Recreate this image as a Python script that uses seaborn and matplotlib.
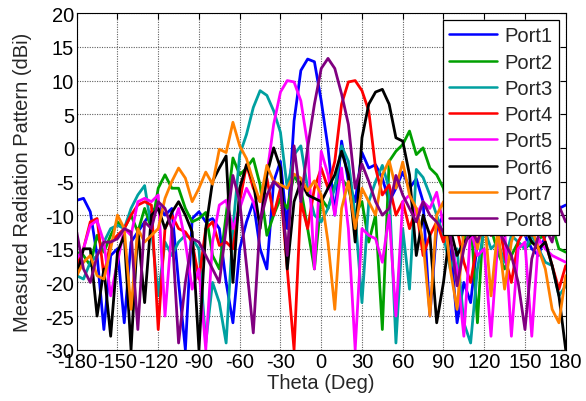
import numpy as np
import pandas as pd
import matplotlib
matplotlib.use("Agg")
import matplotlib.pyplot as plt
import seaborn as sns

# Measurement angles (deg), 5-degree steps
theta = list(range(-180, 181, 5))

port1 = [-7.8, -7.5, -9.5, -16, -27, -16, -15, -26, -14, -12.5, -11, -9.5, -8.5,
         -10, -9, -20, -30, -10.5, -9.5, -11, -10.5, -12, -20, -26, -15, -11, -8,
         -15, -18, -5, -2, -12, 4, 11.5, 13.2, 12.8, 7.0, 0, -10, 1.0, -5, -8, -0.7,
         -3, -2.5, -4.5, -8, -6, -3.6, -6, -4.6, -8, -25, -12, -10, -14, -26, -20,
         -23, -14, -12, -10, -11, -13, -11, -12, -13, -15, -16, -13, -11, -9, -8.5]

port2 = [-15.5, -16, -17.5, -13, -15.5, -13, -11, -12, -10, -12.5, -9, -12, -6,
         -4, -6, -6, -9, -11, -10.5, -9.6, -16, -18, -10, -1.5, -4, -3, -1.6, -5.5,
         -13, -10, -7.5, -9, -4, -6, -12, -18, -7.5, -9, -5.5, -4.5, -6, -10, -8,
         -14, -10, -27, -2, -0.5, 0.5, 2.5, -1, 0, -3, -4, -6, -12, -8, -14, -10,
         -26, -9, -12, -15.5, -18, -16, -14, -15, -14, -13.5, -13, -11.5, -15, -15.5]

port3 = [-19, -19.5, -17, -16, -14, -12, -11.5, -12, -9, -7, -5.6, -12, -22,
         -14, -16, -14, -13, -13.5, -15, -29, -20, -23, -29, -12, -1, 2, 6, 8.5,
         7.8, 5.5, 2.3, -6, -1, 0.3, -6, -10, -11, -9, -6, 0.3, -2, -10, -23, -8,
         -5, -2.6, -6, -29, -12, -21, -3.2, -4.4, -7, -10, -13, -18, -15, -26, -29,
         -18, -12, -15, -14, -17, -13, -14, -15, -13, -15, -17, -17.5, -22, -20.5]

port4 = [-17.5, -15, -11, -10.5, -19, -14, -13, -12, -10, -8.5, -8, -8.5, -27,
         -12, -10, -12, -12.5, -14, -19.5, -12, -11, -14.5, -14, -15, -8, -2.5, -6,
         -8, -4.5, -10, -6, -18, -30, -8, -12, -6, -3, -6, -2, 6.5, 9.8, 10, 8.5,
         5.5, -3, -7, -5.5, -10, -8, -12, -9, -16, -13, -11, -14, -10, -12, -17,
         -20, -14, -11, -13, -10, -16, -20, -14, -12, -13, -11, -14, -17.5, -21, -17.5]

port5 = [-16.5, -15, -11.5, -10.8, -14, -22, -17, -12, -13, -8, -7.5, -8, -7,
         -25, -12, -9, -14, -21, -18, -30, -14, -8.5, -7.8, -12, -9, -6, -8, -11,
         -4, 3.5, 8.3, 10, 9.8, 7, 0.5, -18, -0.5, -4, -10, -3, -12, -30, -12, -13,
         -13.5, -17, -10, -25, -8, -7, -10, -8, -9, -6.6, -11.5, -14, -18, -28, -12,
         -16, -15, -28, -14, -12, -28, -15, -14, -28, -13.5, -15, -16, -16.5, -17]

port6 = [-19, -15, -15, -25, -18, -28, -15.5, -13, -30, -12, -23, -10, -9,
         -12, -9.6, -8, -10, -12.5, -30, -12, -5, -3, -1.2, -20, -6, -2.5, -5, -12,
         -4, 0, -3, -18, -8, -5, -7, -7.5, -8, -6, -4, -0.5, -4, -14, 1.5, 6.5,
         8.3, 8.7, 6.5, 1.5, 1, -4, -16, -10, -13, -26, -20, -12, -16, -14, -13,
         -12, -10, -12, -11, -13, -10, -11, -12, -14, -15, -14, -17.5, -22, -30]

port7 = [-19, -17, -16, -19, -19.5, -15, -10, -12, -24, -12, -14, -13, -12,
         -7.5, -5, -3, -4.5, -8, -6, -3.6, -5.4, -0.2, -0.7, 3.8, 0.3, -1.6, -5,
         -8, -2.6, -5, -5.5, -6, -3.9, -4.5, -6.4, -4.9, -7, -14, -24, -9, -5, -12,
         -6, -8, -10, -4, -1.9, -6, -2.1, -7, -9, -14, -25, -10, -8, -18, -24, -12,
         -9, -15, -10, -22, -12, -21, -14, -11, -13, -12, -15, -18, -24, -26, -19]

port8 = [-12.5, -18, -20, -16, -14, -14, -13.5, -12, -12.5, -27, -11, -12, -8,
         -9, -12, -29, -20, -13.5, -14, -16, -18, -20, -12, -4.1, -8, -17.5, -27.5,
         -11, -7, -5, -6, -16, 0.3, -8, 0, 6.5, 11.8, 13.3, 11.8, 8, 3.5, -6, -2.4,
         -5, -8, -10, -9, -4.1, -7, -9, -11, -8, -10, -11, -12.5, -13, -20.5, -15,
         -12, -14, -11, -13, -12, -14, -16, -20, -27, -16.5, -13, -12, -14, -8.6, -11]

port_names = ["Port1", "Port2", "Port3", "Port4", "Port5", "Port6", "Port7", "Port8"]
port_colors = ["#0000ff", "#00a000", "#00a0a0", "#ff0000",
               "#ff00ff", "#000000", "#ff8000", "#800080"]
x_ticks = list(range(-180, 181, 30))
y_ticks = list(range(-30, 21, 5))

series = [port1, port2, port3, port4, port5, port6, port7, port8]
df = pd.concat(
    [pd.DataFrame({"Theta": theta, "Gain": vals, "Port": name})
     for name, vals in zip(port_names, series)],
    ignore_index=True,
)

sns.set_style("white")
plt.rcParams["font.family"] = ["Liberation Sans", "DejaVu Sans"]
plt.rcParams["axes.unicode_minus"] = False

fig = plt.figure(figsize=(5.86, 4.02), dpi=100)
ax = fig.add_axes([0.1309, 0.1276, 0.8345, 0.8368])

sns.lineplot(data=df, x="Theta", y="Gain", hue="Port", hue_order=port_names,
             palette=port_colors, linewidth=2.0, ax=ax, sort=False,
             estimator=None)

ax.set_xlim(-180, 180)
ax.set_ylim(-30, 20)
ax.set_xticks(x_ticks)
ax.set_yticks(y_ticks)
ax.set_xticklabels([str(v) for v in x_ticks])
ax.set_yticklabels([str(v) for v in y_ticks])
ax.tick_params(direction="in", length=4, width=0.8, labelsize=14.5,
               top=True, right=True, pad=2, colors="black")
ax.grid(True, color="#606060", linestyle=(0, (1, 1.2)), linewidth=0.8)
for sp in ax.spines.values():
    sp.set_visible(True)
    sp.set_color("black")
    sp.set_linewidth(0.8)

ax.set_xlabel("Theta (Deg)", fontsize=14.5, labelpad=1)
ax.set_ylabel("Measured Radiation Pattern (dBi)", fontsize=14.5, labelpad=9)

handles, labels = ax.get_legend_handles_labels()
leg = ax.legend(handles, labels, loc="upper right", fontsize=14.5,
                frameon=True, fancybox=False, framealpha=1, edgecolor="black",
                handlelength=2.4, handletextpad=0.35, labelspacing=0.36,
                borderpad=0.3, borderaxespad=0.35)
leg.get_frame().set_linewidth(0.9)
for ln in leg.get_lines():
    ln.set_linewidth(1.8)

fig.savefig("out.png", dpi=100, facecolor="white")
